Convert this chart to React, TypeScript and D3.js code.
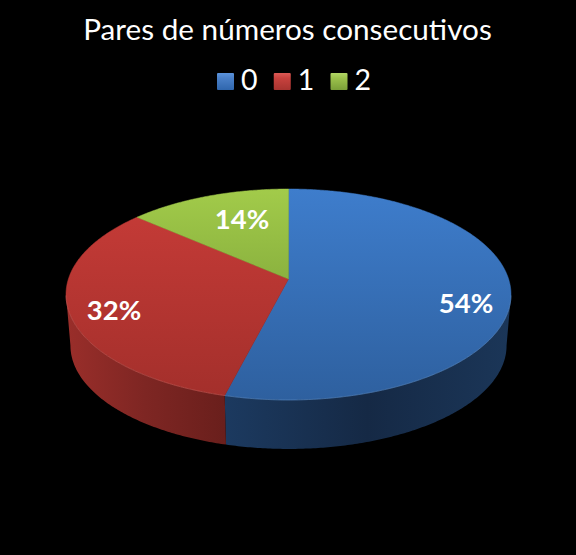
import { useEffect, useRef } from 'react'
import * as d3 from 'd3'

const categories = ['0', '1', '2']
const shares = [54, 32.4, 13.6]
const title = 'Pares de números consecutivos'

const W = 576
const H = 555
const FONT = 'Lato, Carlito, sans-serif'

// top face gradient (top, bottom), side gradient by x (left, mid, right)
const topColors = [
  ['#3e7dcc', '#2e609f'],
  ['#c83c38', '#a32f2b'],
  ['#a2cb4a', '#6c9130'],
]
const sideColors = [
  ['#1c3a60', '#152945', '#1b3658'],
  ['#9a2e2a', '#7e2623', '#6a1f1c'],
  ['#5a7a28', '#5a7a28', '#5a7a28'],
]
const swatchColors = [
  ['#5b93dc', '#4a80c8', '#2f66ad'],
  ['#dc5a55', '#c8423e', '#a83430'],
  ['#b2d665', '#9cc24c', '#7a9f38'],
]

// the pie is a circle seen in perspective, so the apex sits above the ellipse's middle
const cx = 288.5
const cy = 279
const rx = 220.1
const ry = 103.2
const tilt = 0.1468
const depth = 51.4
const depthScale = 0.98

// angles where the outline is widest; only the wall between them faces the viewer
const frontFrom = Math.acos(-tilt)
const frontTo = 2 * Math.PI - frontFrom

function project(a: number, rim: boolean): [number, number] {
  const s = rim ? depthScale : 1
  const u = Math.sin(a)
  const v = -Math.cos(a)
  const w = 1 - tilt * v
  return [cx + (rx * s * u) / w, cy + (rim ? depth : 0) + (ry * s * v) / w]
}

function arcAngles(a0: number, a1: number) {
  const n = Math.ceil(Math.abs(a1 - a0) / 0.01)
  return d3.range(n + 1).map((i) => a0 + ((a1 - a0) * i) / n)
}

export default function App() {
  const ref = useRef<SVGSVGElement>(null)

  useEffect(() => {
    if (!ref.current) return
    d3.select(ref.current).selectAll('*').remove()
    render(ref.current)
  }, [])

  return (
    <svg
      ref={ref}
      width={W}
      height={H}
      style={{ position: 'absolute', left: 0, top: 0, display: 'block', background: '#000' }}
    />
  )
}

function render(el: SVGSVGElement) {
  const svg = d3.select(el).attr('viewBox', `0 0 ${W} ${H}`).style('font-family', FONT)
  const defs = svg.append('defs')
  const line = d3.line().curve(d3.curveLinear)

  const pie = d3.pie<number>().sort(null)
  const arcs = pie(shares)

  const y0 = cy - ry / (1 + tilt)
  const y1 = cy + ry / (1 - tilt)

  categories.forEach((_, i) => {
    const top = defs.append('linearGradient').attr('id', `top${i}`)
      .attr('gradientUnits', 'userSpaceOnUse')
      .attr('x1', 0).attr('x2', 0).attr('y1', y0).attr('y2', y1)
    top.append('stop').attr('offset', 0).attr('stop-color', topColors[i][0])
    top.append('stop').attr('offset', 1).attr('stop-color', topColors[i][1])

    const side = defs.append('linearGradient').attr('id', `side${i}`)
      .attr('gradientUnits', 'userSpaceOnUse')
      .attr('x1', i === 1 ? 66 : 223).attr('x2', i === 1 ? 224 : 511).attr('y1', 0).attr('y2', 0)
    sideColors[i].forEach((c, k) => {
      side.append('stop').attr('offset', k / 2).attr('stop-color', c)
    })

    const sw = defs.append('linearGradient').attr('id', `swatch${i}`)
      .attr('x1', 0).attr('x2', 0).attr('y1', 0).attr('y2', 1)
    swatchColors[i].forEach((c, k) => {
      sw.append('stop').attr('offset', [0, 0.3, 1][k]).attr('stop-color', c)
    })
  })

  // Side walls, clamped to the part that faces the viewer
  arcs.forEach((d, i) => {
    const from = Math.max(d.startAngle, frontFrom)
    const to = Math.min(d.endAngle, frontTo)
    if (to <= from) return
    const angles = arcAngles(from, to)
    const pts = [
      ...angles.map((a) => project(a, false)),
      ...angles.slice().reverse().map((a) => project(a, true)),
    ]
    svg.append('path').attr('d', line(pts) + 'Z').attr('fill', `url(#side${i})`)
  })

  // Top faces
  arcs.forEach((d, i) => {
    const pts: [number, number][] = [[cx, cy], ...arcAngles(d.startAngle, d.endAngle).map((a) => project(a, false))]
    svg.append('path').attr('d', line(pts) + 'Z')
      .attr('fill', `url(#top${i})`)
      .attr('stroke', `url(#top${i})`)
      .attr('stroke-width', 0.5)
  })

  // Soft highlight along the front rim
  arcs.slice(0, 2).forEach((d, i) => {
    const from = Math.max(d.startAngle, Math.PI * 0.55)
    const to = Math.min(d.endAngle, Math.PI * 1.45)
    svg.append('path')
      .attr('d', line(arcAngles(from, to).map((a) => project(a, false))))
      .attr('fill', 'none')
      .attr('stroke', i === 0 ? '#6f9bd0' : '#d9706b')
      .attr('stroke-width', 0.8)
      .attr('opacity', 0.5)
  })

  // Title
  svg.append('text')
    .attr('x', 287.5).attr('y', 40)
    .attr('text-anchor', 'middle')
    .attr('font-size', 29.7)
    .attr('fill', '#fff')
    .text(title)

  // Legend
  const legendX = d3.scalePoint<string>().domain(categories).range([217, 330.5])
  categories.forEach((c, i) => {
    const x = legendX(c)!
    svg.append('rect')
      .attr('x', x).attr('y', 73)
      .attr('width', 17).attr('height', 17)
      .attr('rx', 1)
      .attr('fill', `url(#swatch${i})`)
    svg.append('text')
      .attr('x', x + 24).attr('y', 90)
      .attr('font-size', 28.5)
      .attr('fill', '#fff')
      .text(c)
  })

  // Value labels
  const labelPos: [number, number][] = [[466, 313], [114, 320], [242, 229]]
  shares.forEach((v, i) => {
    svg.append('text')
      .attr('x', labelPos[i][0]).attr('y', labelPos[i][1])
      .attr('text-anchor', 'middle')
      .attr('font-size', 27.5)
      .attr('font-weight', 700)
      .attr('fill', '#fff')
      .text(`${v.toFixed(0)}%`)
  })
}
